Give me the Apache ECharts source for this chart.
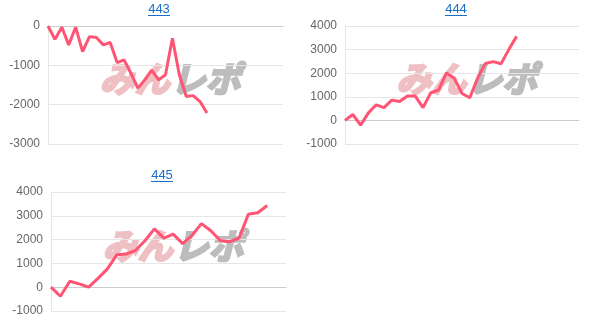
<!DOCTYPE html>
<html>
<head>
<meta charset="utf-8">
<script src="https://cdn.jsdelivr.net/npm/echarts@6/dist/echarts.min.js"></script>
<style>
html,body{margin:0;padding:0;background:#fff;}
#chart{width:610px;height:329px;}
</style>
</head>
<body>
<div id="chart"></div>
<script>
// Titles
const titles = ['443', '444', '445'];

// x categories (hidden on the axes)
const cats443 = [1,2,3,4,5,6,7,8,9,10,11,12,13,14,15,16,17,18,19,20,21,22,23,24,25,26,27,28,29,30,31,32,33,34,35];
const cats444 = [1,2,3,4,5,6,7,8,9,10,11,12,13,14,15,16,17,18,19,20,21,22,23,24,25,26,27,28,29,30,31];
const cats445 = [1,2,3,4,5,6,7,8,9,10,11,12,13,14,15,16,17,18,19,20,21,22,23,24,25,26];

// series values
const vals443 = [0,-340,-30,-480,-30,-650,-270,-290,-480,-420,-930,-860,-1200,-1580,-1370,-1120,-1370,-1240,-310,-1240,-1790,-1770,-1920,-2210];
const vals444 = [0,250,-200,320,660,540,860,800,1030,1030,540,1170,1280,2010,1790,1140,960,1790,2410,2490,2400,3000,3560];
const vals445 = [0,-380,250,140,0,370,770,1360,1390,1550,1950,2450,2060,2230,1830,2170,2670,2370,1960,1910,2060,3070,3130,3430];

// y axis ranges
const yRange443 = {min: -3000, max: 0, interval: 1000};
const yRange444 = {min: -1000, max: 4000, interval: 1000};
const yRange445 = {min: -1000, max: 4000, interval: 1000};

const chart = echarts.init(document.getElementById('chart'), null, {renderer: 'canvas'});

const grids = [
  {left: 48, top: 26, width: 235, height: 118},
  {left: 345, top: 26, width: 234, height: 118},
  {left: 51, top: 192, width: 235, height: 119}
];
const titlePos = [{x: 159, y: 3}, {x: 456, y: 3}, {x: 162, y: 169}];
const lineColor = '#ff5473';

function xAxisFor(i, cats) {
  return {
    type: 'category', gridIndex: i, data: cats, boundaryGap: false,
    axisLabel: {show: false}, axisTick: {show: false},
    axisLine: {show: true, onZero: true, lineStyle: {color: '#cccccc', width: 1}},
    splitLine: {show: false}
  };
}
function yAxisFor(i, r) {
  return {
    type: 'value', gridIndex: i, min: r.min, max: r.max, interval: r.interval,
    axisLine: {show: true, lineStyle: {color: '#e6e6e6'}},
    axisTick: {show: false},
    axisLabel: {color: '#666', fontSize: 12, fontFamily: 'Liberation Sans, Arial, sans-serif', margin: 8,
      formatter: function (v) { return String(v); }},
    splitLine: {show: true, lineStyle: {color: '#e6e6e6'}}
  };
}
function seriesFor(i, vals) {
  return {
    type: 'line', xAxisIndex: i, yAxisIndex: i, data: vals,
    symbol: 'none', smooth: false, z: 5,
    lineStyle: {color: lineColor, width: 3}
  };
}

const graphics = [];
titlePos.forEach(function (p) {
  graphics.push({
    type: 'line', z: 10,
    shape: {x1: p.x - 11, y1: p.y + 12.5, x2: p.x + 11, y2: p.y + 12.5},
    style: {stroke: '#1a6fc9', lineWidth: 1}
  });
});
// watermark logo (behind plot)
grids.forEach(function (g) {
  const cx = g.left + g.width * 0.53;
  const cy = g.top + g.height * 0.5;
  graphics.push({
    type: 'text', z: -1, zlevel: 0, left: cx - 74, top: cy - 25,
    style: {text: 'みん', fill: '#eec0c3', stroke: '#eec0c3', lineWidth: 2.5,
      font: 'italic bold 35px "Noto Sans CJK JP"'}
  });
  graphics.push({
    type: 'text', z: -1, zlevel: 0, left: cx - 3, top: cy - 25,
    style: {text: 'レポ', fill: '#bdbdbd', stroke: '#bdbdbd', lineWidth: 2.5,
      font: 'italic bold 35px "Noto Sans CJK JP"'}
  });
});

chart.setOption({
  animation: false,
  backgroundColor: '#fff',
  title: titles.map(function (t, i) {
    return {
      text: t, left: titlePos[i].x, top: titlePos[i].y, textAlign: 'center', padding: 0,
      textStyle: {color: '#1a6fc9', fontSize: 13, fontWeight: 'normal', fontFamily: 'Liberation Sans, Arial, sans-serif'}
    };
  }),
  grid: grids,
  xAxis: [xAxisFor(0, cats443), xAxisFor(1, cats444), xAxisFor(2, cats445)],
  yAxis: [yAxisFor(0, yRange443), yAxisFor(1, yRange444), yAxisFor(2, yRange445)],
  series: [seriesFor(0, vals443), seriesFor(1, vals444), seriesFor(2, vals445)],
  graphic: graphics
});
</script>
</body>
</html>
